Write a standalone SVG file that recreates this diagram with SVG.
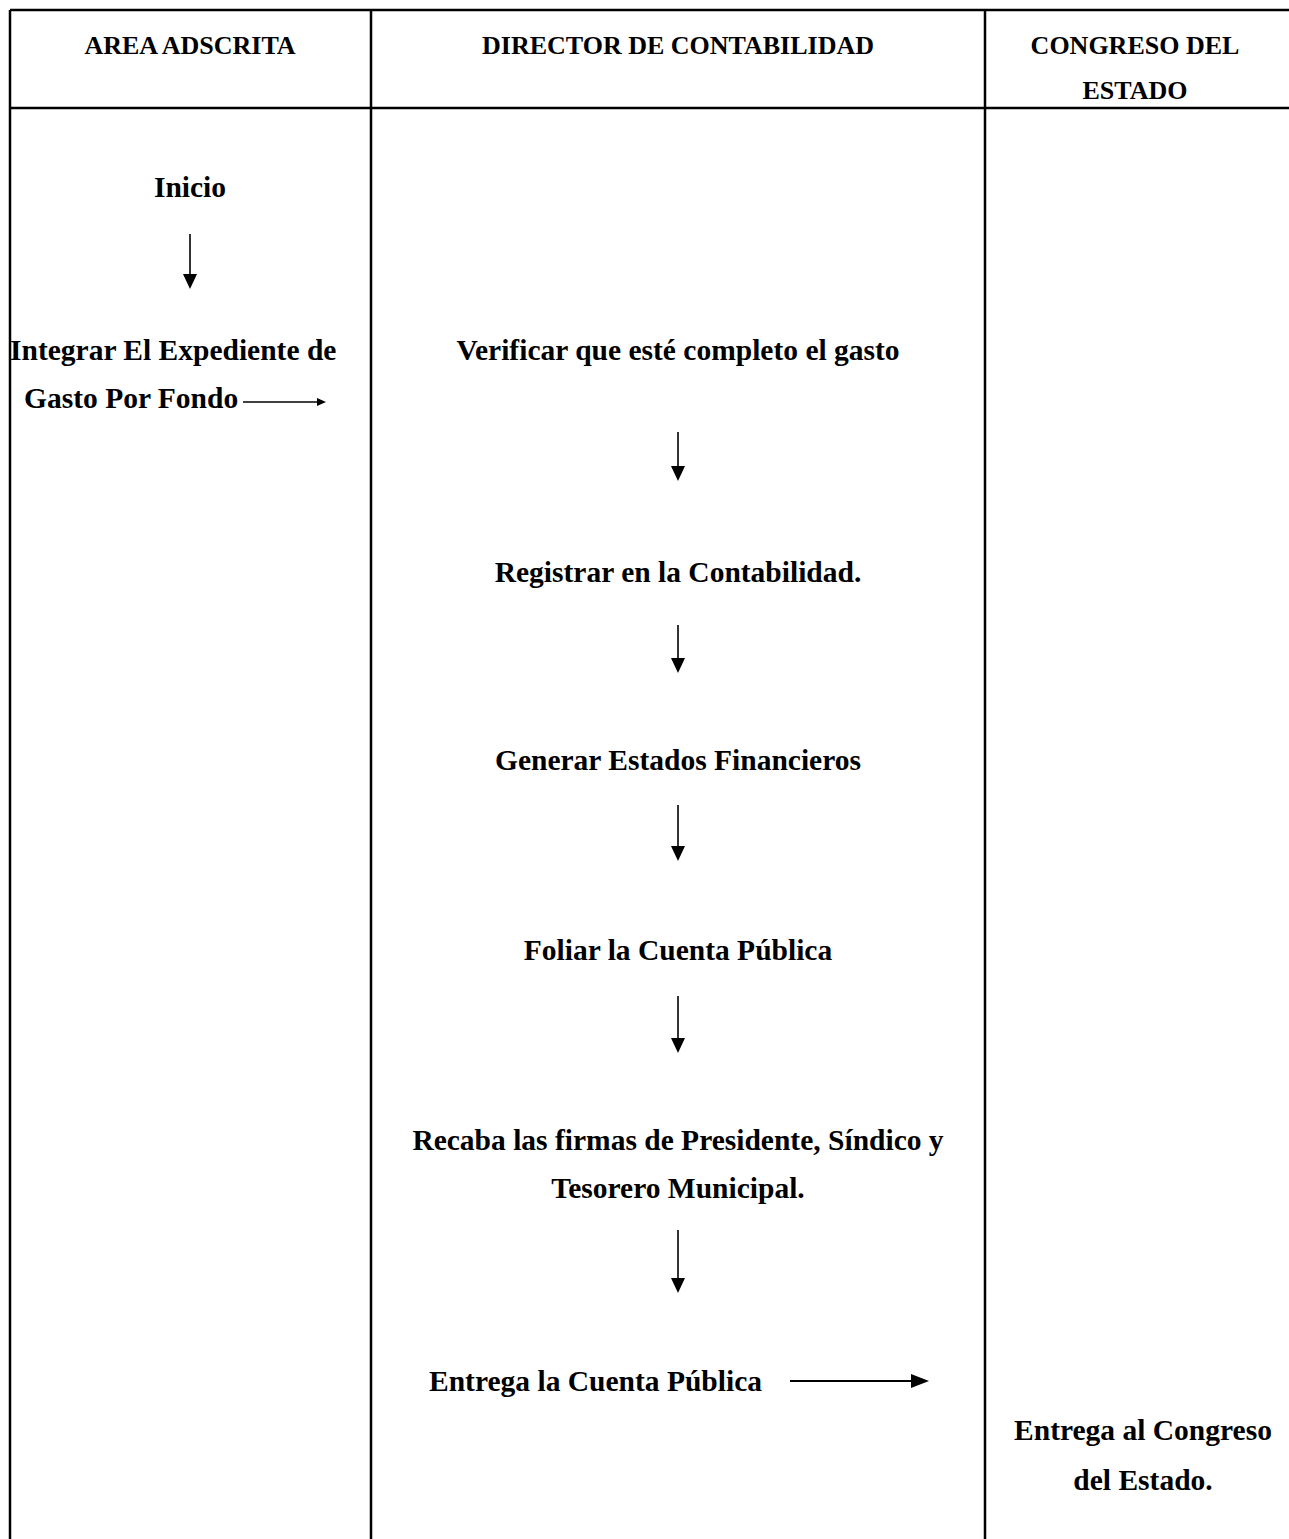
<svg xmlns="http://www.w3.org/2000/svg" width="1289" height="1539" viewBox="0 0 1289 1539">
<style>
.t{font-family:"Liberation Serif","Times New Roman",serif;font-weight:bold;font-size:29.5px;fill:#000}
.h{font-size:26px}
.c{text-anchor:middle}
.grid{stroke:#000;stroke-width:2.5;fill:none}
.ln{stroke:#000;stroke-width:1.6;fill:none}
.hd{fill:#000}
</style>
<rect width="1289" height="1539" fill="#fff"/>
<g id="table">
<path class="grid" d="M10,10 H1300 M10,108 H1300 M10,10 V1539 M371,10 V1539 M985,10 V1539"/>
</g>
<g id="headers">
<text class="t h c" x="190" y="54">AREA ADSCRITA</text>
<text class="t h c" x="678" y="54">DIRECTOR DE CONTABILIDAD</text>
<text class="t h c" x="1135" y="54">CONGRESO DEL</text>
<text class="t h c" x="1135" y="99">ESTADO</text>
</g>
<g id="n-inicio"><text class="t c" x="190" y="197">Inicio</text></g>
<g id="n-integrar">
<text class="t" x="10" y="360">Integrar El Expediente de</text>
<text class="t" x="24" y="408">Gasto Por Fondo</text>
</g>
<g id="n-verificar"><text class="t c" x="678" y="360">Verificar que esté completo el gasto</text></g>
<g id="n-registrar"><text class="t c" x="678" y="582">Registrar en la Contabilidad.</text></g>
<g id="n-generar"><text class="t c" x="678" y="770">Generar Estados Financieros</text></g>
<g id="n-foliar"><text class="t c" x="678" y="960">Foliar la Cuenta Pública</text></g>
<g id="n-recaba">
<text class="t c" x="678" y="1150">Recaba las firmas de Presidente, Síndico y</text>
<text class="t c" x="678" y="1198">Tesorero Municipal.</text>
</g>
<g id="n-entrega"><text class="t" x="429" y="1391">Entrega la Cuenta Pública</text></g>
<g id="n-congreso">
<text class="t c" x="1143" y="1440">Entrega al Congreso</text>
<text class="t c" x="1143" y="1490">del Estado.</text>
</g>
<g id="connectors">
<path class="ln" d="M190,234 V274"/><path class="hd" d="M183,274 H197 L190,289 Z"/>
<path class="ln" d="M243,402 H318"/><path class="hd" d="M317,398 L326,402 L317,406 Z"/>
<path class="ln" d="M678,432 V466"/><path class="hd" d="M671,466 H685 L678,481 Z"/>
<path class="ln" d="M678,625 V658"/><path class="hd" d="M671,658 H685 L678,673 Z"/>
<path class="ln" d="M678,805 V846"/><path class="hd" d="M671,846 H685 L678,861 Z"/>
<path class="ln" d="M678,996 V1038"/><path class="hd" d="M671,1038 H685 L678,1053 Z"/>
<path class="ln" d="M678,1230 V1278"/><path class="hd" d="M671,1278 H685 L678,1293 Z"/>
<path class="ln" style="stroke-width:2" d="M790,1381 H912"/><path class="hd" d="M911,1374 L929,1381 L911,1388 Z"/>
</g>
</svg>
